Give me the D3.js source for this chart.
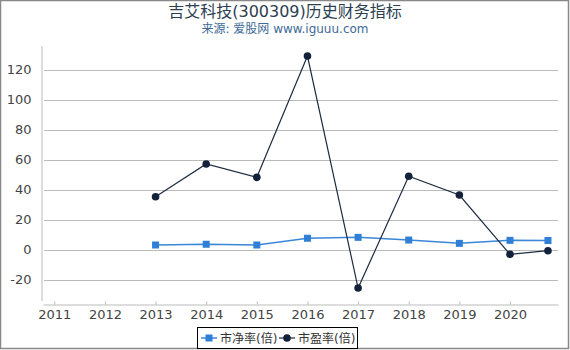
<!DOCTYPE html>
<html>
<head>
<meta charset="utf-8">
<script src="https://cdn.jsdelivr.net/npm/d3@7"></script>
<style>
  body { margin: 0; background: #fff; }
  svg { font-family: "DejaVu Sans", "Noto Sans CJK SC", sans-serif; }
</style>
</head>
<body>
<div id="chart"></div>
<script>
// chart data
var years = [2013, 2014, 2015, 2016, 2017, 2018, 2019, 2020, 2020.75];
var pbValues = [3.0, 3.5, 3.0, 7.5, 8.1, 6.3, 4.1, 6.1, 6.0];   // 市净率(倍)
var peValues = [35.2, 57, 48.1, 129, -25.7, 48.8, 36.3, -3.2, -0.8]; // 市盈率(倍)
var xTicks = [2011, 2012, 2013, 2014, 2015, 2016, 2017, 2018, 2019, 2020];
var yTicks = [-20, 0, 20, 40, 60, 80, 100, 120];
var seriesNames = ["市净率(倍)", "市盈率(倍)"];

var w = 570, h = 350;

var svg = d3.select("#chart").append("svg")
    .attr("width", w)
    .attr("height", h);

// outer frame
svg.append("rect")
    .attr("x", 0.5).attr("y", 0.5)
    .attr("width", w - 2).attr("height", h - 2)
    .attr("fill", "none")
    .attr("stroke", "#888")
    .attr("stroke-width", 1.5);

// title
svg.append("text")
    .attr("x", 285).attr("y", 17)
    .attr("text-anchor", "middle")
    .attr("font-size", 16)
    .attr("fill", "#2c3e50")
    .text("吉艾科技(300309)历史财务指标");

svg.append("text")
    .attr("x", 285).attr("y", 33)
    .attr("text-anchor", "middle")
    .attr("font-size", 12)
    .attr("fill", "#3d6a96")
    .text("来源: 爱股网 www.iguuu.com");

// scales
var x = d3.scaleLinear()
    .domain([2010.777, 2020.948])
    .range([43, 558]);

var y = d3.scaleLinear()
    .domain([-34, 136])
    .range([300.5, 45.5]);

// grid lines
svg.append("g")
    .selectAll("line")
    .data(yTicks)
    .enter()
    .append("line")
    .attr("x1", 44).attr("x2", 558)
    .attr("y1", function(d) { return Math.round(y(d)) + 0.5; })
    .attr("y2", function(d) { return Math.round(y(d)) + 0.5; })
    .attr("stroke", "#bbb")
    .attr("stroke-width", 1);

// y axis (plain hyphen for negatives, like the original)
var yAxis = svg.append("g")
    .attr("transform", "translate(41.5,0)")
    .call(d3.axisLeft(y).tickValues(yTicks).tickFormat(function(d) { return String(d); })
        .tickSize(0).tickPadding(10));
yAxis.select(".domain").attr("stroke", "#bbb");
yAxis.selectAll("text").attr("font-size", 13).attr("fill", "#444")
    .attr("font-family", "DejaVu Sans");

// x axis
var xAxis = svg.append("g")
    .attr("transform", "translate(0,304.5)")
    .call(d3.axisBottom(x).tickValues(xTicks).tickFormat(function(d) { return String(d); })
        .tickSizeOuter(0).tickSizeInner(3).tickPadding(2));
xAxis.select(".domain").attr("stroke", "#bbb");
xAxis.selectAll(".tick line").attr("stroke", "#bbb").attr("transform", "translate(0,-3)");
xAxis.selectAll("text").attr("font-size", 13).attr("fill", "#444")
    .attr("font-family", "DejaVu Sans");

var pbData = years.map(function(d, i) { return {x: d, y: pbValues[i]}; });
var peData = years.map(function(d, i) { return {x: d, y: peValues[i]}; });

var line = d3.line()
    .x(function(d) { return x(d.x); })
    .y(function(d) { return y(d.y); });

// 市净率 line + squares
svg.append("path")
    .datum(pbData)
    .attr("d", line)
    .attr("fill", "none")
    .attr("stroke", "#3a86d8")
    .attr("stroke-width", 1.5);

svg.append("g")
    .selectAll("rect")
    .data(pbData)
    .enter()
    .append("rect")
    .attr("x", function(d) { return x(d.x) - 3.5; })
    .attr("y", function(d) { return y(d.y) - 3.5; })
    .attr("width", 7).attr("height", 7)
    .attr("fill", "#2f7fd6");

// 市盈率 line + circles
svg.append("path")
    .datum(peData)
    .attr("d", line)
    .attr("fill", "none")
    .attr("stroke", "#1c2b42")
    .attr("stroke-width", 1.2);

svg.append("g")
    .selectAll("circle")
    .data(peData)
    .enter()
    .append("circle")
    .attr("cx", function(d) { return x(d.x); })
    .attr("cy", function(d) { return y(d.y); })
    .attr("r", 3.8)
    .attr("fill", "#13213a");

// legend
var legend = svg.append("g");
legend.append("rect")
    .attr("x", 197.5).attr("y", 327.5)
    .attr("width", 160).attr("height", 21)
    .attr("fill", "#fff")
    .attr("stroke", "#000")
    .attr("stroke-width", 1);

legend.append("line")
    .attr("x1", 201).attr("x2", 217).attr("y1", 338).attr("y2", 338)
    .attr("stroke", "#3a86d8").attr("stroke-width", 1.5);
legend.append("rect")
    .attr("x", 205.5).attr("y", 334.5).attr("width", 7).attr("height", 7)
    .attr("fill", "#2f7fd6");
legend.append("text")
    .attr("x", 220).attr("y", 342.5)
    .attr("font-size", 12).attr("fill", "#333")
    .text(seriesNames[0]);

legend.append("line")
    .attr("x1", 279).attr("x2", 295).attr("y1", 338).attr("y2", 338)
    .attr("stroke", "#1c2b42").attr("stroke-width", 1.2);
legend.append("circle")
    .attr("cx", 287).attr("cy", 338).attr("r", 3.8)
    .attr("fill", "#13213a");
legend.append("text")
    .attr("x", 298).attr("y", 342.5)
    .attr("font-size", 12).attr("fill", "#333")
    .text(seriesNames[1]);
</script>
</body>
</html>
